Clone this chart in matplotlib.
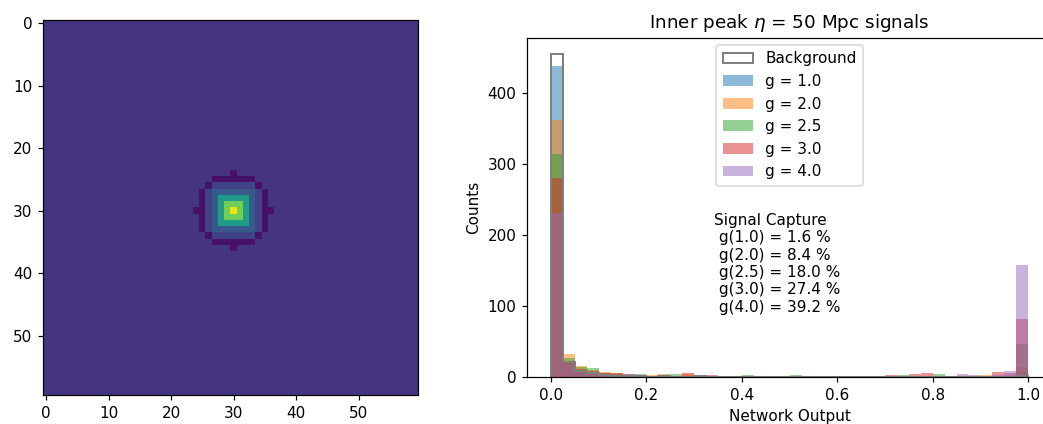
import numpy as np
from matplotlib import pyplot as plt

# ---------------- dati ----------------
# mappa 60x60: fondo costante + picco centrato in (30,30)
N_pix = 60
centro = 30
livello_fondo = 0.15
# livelli dei pixel nel riquadro 13x13 attorno al centro (righe/colonne 24..36)
livelli = {'.': 0.15, 'D': 0.05, 'b': 0.20, 'B': 0.28, 'T': 0.55, 'L': 0.78, 'Y': 0.97}
riquadro = [
    "......D......",
    "...DDDDDDD...",
    "..DbbbbbbbD..",
    ".DbBBBBBBBbD.",
    ".DbBTTTTTBbD.",
    ".DbBTLLLTBbD.",
    "DDbBTLYLTBbDD",
    ".DbBTLLLTBbD.",
    ".DbBTTTTTBbD.",
    ".DbBBBBBBBbD.",
    "..DbbbbbbbD..",
    "...DDDDDDD...",
    "......D......",
]

# istogramma: 40 bin tra 0 e 1
bordi_bin = np.linspace(0.0, 1.0, 41)
fondo = [455, 21, 9, 5, 3, 2, 1, 1, 0, 1, 0, 0, 1, 0, 0, 0, 0, 0, 0, 0,
         0, 0, 0, 0, 0, 0, 0, 0, 0, 0, 0, 0, 0, 0, 0, 0, 0, 0, 0, 1]
g10 = [438, 22, 10, 6, 4, 3, 2, 1, 1, 0, 0, 0, 0, 0, 0, 0, 0, 0, 0, 0,
       0, 0, 0, 1, 0, 0, 1, 0, 0, 0, 0, 0, 0, 0, 0, 0, 0, 0, 1, 7]
g20 = [362, 32, 15, 10, 7, 6, 3, 2, 3, 4, 0, 4, 0, 1, 0, 0, 1, 1, 2, 0,
       0, 0, 0, 0, 2, 0, 0, 0, 2, 0, 0, 2, 0, 0, 0, 0, 3, 0, 2, 14]
g25 = [314, 27, 14, 12, 6, 4, 3, 4, 0, 0, 4, 0, 0, 0, 0, 0, 3, 0, 0, 1,
       3, 0, 0, 0, 0, 2, 0, 0, 0, 3, 0, 0, 4, 0, 0, 0, 0, 2, 2, 47]
g30 = [280, 21, 11, 8, 5, 5, 4, 3, 1, 3, 2, 5, 0, 3, 0, 2, 0, 1, 1, 0,
       2, 2, 0, 0, 1, 0, 0, 2, 3, 2, 4, 5, 1, 0, 1, 2, 2, 7, 6, 81]
g40 = [231, 18, 7, 5, 4, 3, 4, 2, 1, 2, 1, 2, 1, 0, 1, 1, 0, 0, 0, 0,
       0, 1, 0, 1, 0, 0, 2, 0, 1, 0, 1, 2, 1, 1, 4, 3, 1, 3, 8, 157]
etichette = ['g = 1.0', 'g = 2.0', 'g = 2.5', 'g = 3.0', 'g = 4.0']
colori = ['tab:blue', 'tab:orange', 'tab:green', 'tab:red', 'tab:purple']
catture = ['1.6', '8.4', '18.0', '27.4', '39.2']

# ---------------- figura ----------------
DPI = 110
fig = plt.figure(figsize=(1043/DPI, 424/DPI), dpi=DPI)

# mappa
mappa = np.full((N_pix, N_pix), livello_fondo)
r0 = centro - len(riquadro)//2
for i, riga in enumerate(riquadro):
    for j, ch in enumerate(riga):
        mappa[r0 + i, r0 + j] = livelli[ch]

ax1 = fig.add_axes([0.0412, 0.0684, 0.3595, 0.8844])
ax1.imshow(mappa, cmap='viridis', vmin=0.0, vmax=1.0)
ax1.set_xticks(np.arange(0, 60, 10))
ax1.set_yticks(np.arange(0, 60, 10))

# istogrammi
ax2 = fig.add_axes([0.5055, 0.1108, 0.5031, 0.8007])
centri = bordi_bin[:-1] + 0.0125
ax2.hist(centri, bins=bordi_bin, weights=fondo, histtype='step', color='gray',
         lw=1.3, label='Background')
for serie, lab, c in zip([g10, g20, g25, g30, g40], etichette, colori):
    ax2.hist(centri, bins=bordi_bin, weights=serie, alpha=0.5, color=c, label=lab)

testo = "Signal Capture\n" + "\n".join(
    " g({0}) = {1} %".format(lab.split('= ')[1], p) for lab, p in zip(etichette, catture))
ax2.text(0.342, 231, testo, va='top', ha='left', fontsize=10)

ax2.set_title(r"Inner peak $\eta$ = 50 Mpc signals")
ax2.set_xlabel('Network Output')
ax2.set_ylabel('Counts')
ax2.legend(loc='upper center')

plt.savefig('out.png', dpi=DPI)
